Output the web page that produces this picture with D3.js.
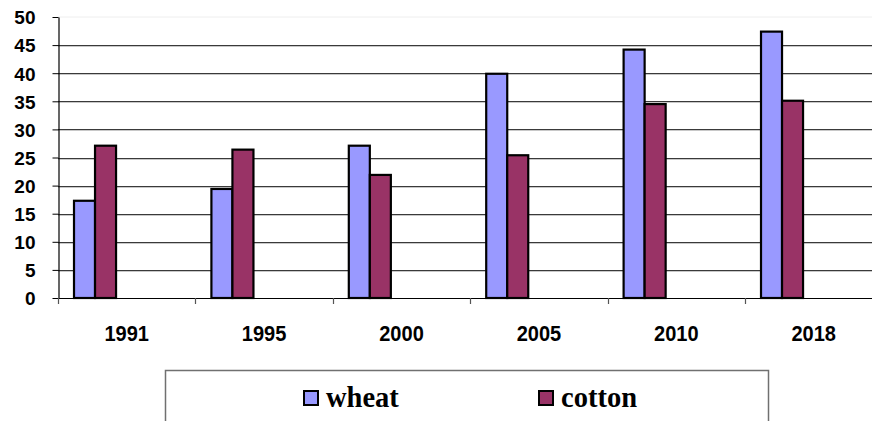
<!DOCTYPE html>
<html>
<head>
<meta charset="utf-8">
<script src="https://cdn.jsdelivr.net/npm/d3@7"></script>
<style>
  html, body { margin: 0; padding: 0; background: #fff; }
  svg { display: block; }
</style>
</head>
<body>
<svg id="chart" width="872" height="421"></svg>
<script>
const years = ["1991", "1995", "2000", "2005", "2010", "2018"];
const wheat = [17.3, 19.4, 27.1, 39.9, 44.2, 47.4];
const cotton = [27.1, 26.4, 21.9, 25.4, 34.5, 35.1];
const seriesNames = ["wheat", "cotton"];
const seriesColors = ["#9999FF", "#993366"];
const yTicks = [0, 5, 10, 15, 20, 25, 30, 35, 40, 45, 50];

const svg = d3.select("#chart");
const plotLeft = 58, plotTop = 17, plotBottom = 298;
const bandW = 137.4;

const x = d3.scaleBand().domain(years).range([plotLeft, plotLeft + bandW * years.length]).padding(0);
const y = d3.scaleLinear().domain([0, 50]).range([plotBottom, plotTop]);

// plot border top (faint)
svg.append("line").attr("x1", plotLeft).attr("x2", 872).attr("y1", y(50)).attr("y2", y(50))
  .attr("stroke", "#eeeeee").attr("stroke-width", 1);

// gridlines
const grid = svg.append("g");
yTicks.filter(t => t > 0 && t < 50).forEach(t => {
  grid.append("line").attr("x1", plotLeft).attr("x2", 872)
    .attr("y1", Math.round(y(t)) + 1.5).attr("y2", Math.round(y(t)) + 1.5)
    .attr("stroke", "#c8c8c8").attr("stroke-width", 1);
  grid.append("line").attr("x1", plotLeft).attr("x2", 872)
    .attr("y1", Math.round(y(t)) + 0.5).attr("y2", Math.round(y(t)) + 0.5)
    .attr("stroke", "#3a3a3a").attr("stroke-width", 1);
});

// bars
const barOffset = x.bandwidth() * 0.1165;
const barW = x.bandwidth() * 0.153;
const data = [wheat, cotton];
data.forEach((vals, si) => {
  svg.append("g").selectAll("rect").data(years).join("rect")
    .attr("x", d => x(d) + barOffset + si * barW)
    .attr("y", (d, i) => y(vals[i]))
    .attr("width", barW)
    .attr("height", (d, i) => y(0) - y(vals[i]))
    .attr("fill", seriesColors[si])
    .attr("stroke", "#000")
    .attr("stroke-width", 2.2);
});

// y axis
const yAxis = d3.axisLeft(y).tickValues(yTicks).tickSize(6).tickPadding(17).tickSizeOuter(0);
const gy = svg.append("g").attr("transform", `translate(${plotLeft + 0.5},0)`).call(yAxis);
gy.select(".domain").attr("stroke", "#000").attr("stroke-width", 1.2);
gy.selectAll(".tick line").attr("stroke", "#000");
gy.selectAll(".tick text")
  .attr("font-family", "Liberation Sans, Arial, sans-serif")
  .attr("font-weight", "bold").attr("font-size", "19px").attr("fill", "#000")
  .attr("dy", "0.36em");

// x axis
const xAxis = d3.axisBottom(x).tickSize(0).tickPadding(0);
const gx = svg.append("g").attr("transform", `translate(0,${plotBottom + 0.5})`).call(xAxis);
gx.select(".domain").remove();
svg.append("line").attr("x1", plotLeft).attr("x2", 872).attr("y1", plotBottom + 0.5).attr("y2", plotBottom + 0.5)
  .attr("stroke", "#000").attr("stroke-width", 1.2);
gx.selectAll(".tick text")
  .attr("font-family", "Liberation Sans, Arial, sans-serif")
  .attr("font-weight", "bold").attr("font-size", "22.5px").attr("fill", "#000")
  .attr("dy", 0).attr("y", 43).attr("transform", "scale(0.89,1)");
// category boundary ticks
svg.append("g").selectAll("line").data(years).join("line")
  .attr("x1", d => Math.round(x(d)) + 0.5).attr("x2", d => Math.round(x(d)) + 0.5)
  .attr("y1", plotBottom).attr("y2", plotBottom + 6)
  .attr("stroke", "#555").attr("stroke-width", 1.2);

// legend
svg.append("rect").attr("x", 165.5).attr("y", 370.5).attr("width", 603).attr("height", 80)
  .attr("fill", "none").attr("stroke", "#707070").attr("stroke-width", 1.5);
const legX = [304, 539];
const lg = svg.append("g").selectAll("g").data(seriesNames).join("g")
  .attr("transform", (d, i) => `translate(${legX[i]},391)`);
lg.append("rect").attr("width", 14).attr("height", 14)
  .attr("fill", (d, i) => seriesColors[i]).attr("stroke", "#000").attr("stroke-width", 2);
lg.append("text").attr("x", 22).attr("y", 16)
  .attr("font-family", "Liberation Serif, Times New Roman, serif")
  .attr("font-weight", "bold").attr("font-size", "28.5px").attr("fill", "#000")
  .text(d => d);
</script>
</body>
</html>
